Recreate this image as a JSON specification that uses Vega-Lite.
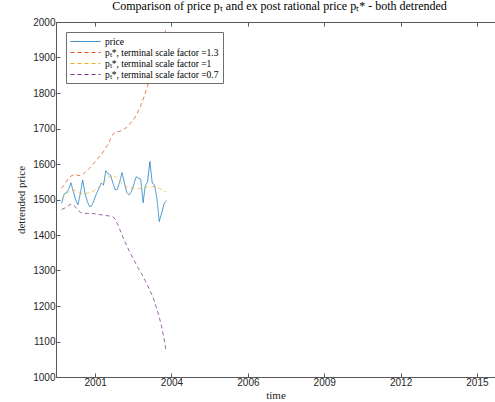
{
  "$schema": "https://vega.github.io/schema/vega-lite/v6.json",
  "width": 439,
  "height": 355,
  "autosize": "none",
  "padding": {"left": 56, "top": 22, "right": 0, "bottom": 25},
  "background": "white",
  "title": {"text": "Comparison of price pₜ and ex post rational price pₜ* - both detrended", "font": "Liberation Serif", "fontSize": 12, "fontWeight": "normal", "color": "#000000", "anchor": "middle", "offset": 4, "dx": 4},
  "data": {"values": [
    {"date": "2000-03-15", "a": 1489, "b": 1532, "c": 1501, "d": 1472},
    {"date": "2000-04-15", "a": 1515, "b": 1540, "c": 1508, "d": 1475},
    {"date": "2000-05-15", "a": 1519, "b": 1550, "c": 1515, "d": 1478},
    {"date": "2000-06-15", "a": 1529, "b": 1560, "c": 1522, "d": 1483},
    {"date": "2000-07-15", "a": 1547, "b": 1566, "c": 1526, "d": 1487},
    {"date": "2000-08-15", "a": 1522, "b": 1569, "c": 1527, "d": 1484},
    {"date": "2000-09-15", "a": 1499, "b": 1570, "c": 1524, "d": 1478},
    {"date": "2000-10-15", "a": 1485, "b": 1568, "c": 1521, "d": 1470},
    {"date": "2000-11-15", "a": 1517, "b": 1567, "c": 1518, "d": 1464},
    {"date": "2000-12-15", "a": 1555, "b": 1570, "c": 1517, "d": 1462},
    {"date": "2001-01-15", "a": 1517, "b": 1576, "c": 1517, "d": 1461},
    {"date": "2001-02-15", "a": 1494, "b": 1582, "c": 1518, "d": 1461},
    {"date": "2001-03-15", "a": 1480, "b": 1588, "c": 1520, "d": 1461},
    {"date": "2001-04-15", "a": 1483, "b": 1595, "c": 1522, "d": 1461},
    {"date": "2001-05-15", "a": 1499, "b": 1603, "c": 1525, "d": 1460},
    {"date": "2001-06-15", "a": 1517, "b": 1611, "c": 1530, "d": 1459},
    {"date": "2001-07-15", "a": 1531, "b": 1619, "c": 1535, "d": 1458},
    {"date": "2001-08-15", "a": 1546, "b": 1627, "c": 1541, "d": 1457},
    {"date": "2001-09-15", "a": 1541, "b": 1636, "c": 1548, "d": 1456},
    {"date": "2001-10-15", "a": 1581, "b": 1646, "c": 1556, "d": 1455},
    {"date": "2001-11-15", "a": 1572, "b": 1657, "c": 1562, "d": 1454},
    {"date": "2001-12-15", "a": 1569, "b": 1670, "c": 1566, "d": 1453},
    {"date": "2002-01-15", "a": 1547, "b": 1684, "c": 1568, "d": 1451},
    {"date": "2002-02-15", "a": 1527, "b": 1690, "c": 1565, "d": 1445},
    {"date": "2002-03-15", "a": 1529, "b": 1691, "c": 1558, "d": 1432},
    {"date": "2002-04-15", "a": 1550, "b": 1692, "c": 1551, "d": 1416},
    {"date": "2002-05-15", "a": 1576, "b": 1695, "c": 1545, "d": 1400},
    {"date": "2002-06-15", "a": 1547, "b": 1699, "c": 1540, "d": 1384},
    {"date": "2002-07-15", "a": 1520, "b": 1703, "c": 1536, "d": 1370},
    {"date": "2002-08-15", "a": 1513, "b": 1710, "c": 1534, "d": 1356},
    {"date": "2002-09-15", "a": 1522, "b": 1718, "c": 1533, "d": 1343},
    {"date": "2002-10-15", "a": 1541, "b": 1726, "c": 1532, "d": 1330},
    {"date": "2002-11-15", "a": 1564, "b": 1737, "c": 1531, "d": 1318},
    {"date": "2002-12-15", "a": 1560, "b": 1750, "c": 1531, "d": 1306},
    {"date": "2003-01-15", "a": 1557, "b": 1765, "c": 1531, "d": 1295},
    {"date": "2003-02-15", "a": 1491, "b": 1781, "c": 1532, "d": 1283},
    {"date": "2003-03-15", "a": 1538, "b": 1800, "c": 1534, "d": 1271},
    {"date": "2003-04-15", "a": 1550, "b": 1820, "c": 1536, "d": 1258},
    {"date": "2003-05-15", "a": 1607, "b": 1841, "c": 1537, "d": 1244},
    {"date": "2003-06-15", "a": 1546, "b": 1861, "c": 1537, "d": 1230},
    {"date": "2003-07-15", "a": 1541, "b": 1881, "c": 1536, "d": 1212},
    {"date": "2003-08-15", "a": 1503, "b": 1902, "c": 1534, "d": 1191},
    {"date": "2003-09-15", "a": 1438, "b": 1922, "c": 1531, "d": 1168},
    {"date": "2003-10-15", "a": 1461, "b": 1942, "c": 1528, "d": 1143},
    {"date": "2003-11-15", "a": 1487, "b": 1962, "c": 1524, "d": 1110},
    {"date": "2003-12-15", "a": 1497, "b": 1982, "c": 1521, "d": 1071}
  ]},
  "transform": [{"fold": ["a", "b", "c", "d"], "as": ["series", "value"]}],
  "layer": [
    {
      "mark": {"type": "line", "strokeWidth": 1, "strokeOpacity": 0.75, "clip": true},
      "encoding": {
        "x": {"field": "date", "type": "temporal",
          "scale": {"type": "utc", "domain": [{"year": 2000, "month": 1, "date": 1, "utc": true}, {"year": 2015, "month": 9, "date": 30, "utc": true}]},
          "axis": {"orient": "bottom", "title": "time", "labelExpr": "utcFormat(datum.value, '%Y')", "labelPadding": 4, "titlePadding": 2, "labelOverlap": false,
            "values": [
              {"year": 2001, "month": 5, "date": 28, "utc": true},
              {"year": 2004, "month": 2, "date": 22, "utc": true},
              {"year": 2006, "month": 11, "date": 19, "utc": true},
              {"year": 2009, "month": 8, "date": 15, "utc": true},
              {"year": 2012, "month": 5, "date": 11, "utc": true},
              {"year": 2015, "month": 2, "date": 5, "utc": true}
            ]}},
        "y": {"field": "value", "type": "quantitative",
          "scale": {"domain": [1000, 2000], "nice": false, "zero": false},
          "axis": {"title": "detrended price", "format": "d", "labelOverlap": false, "tickCount": 11, "values": [1000, 1100, 1200, 1300, 1400, 1500, 1600, 1700, 1800, 1900, 2000], "labelPadding": 5, "titlePadding": 6}},
        "color": {"field": "series", "type": "nominal",
          "scale": {"domain": ["a", "b", "c", "d"], "range": ["#0072BD", "#D95319", "#EDB120", "#7E2F8E"]},
          "legend": {"labelExpr": "datum.value == 'a' ? 'price' : datum.value == 'b' ? 'pₜ*, terminal scale factor =1.3' : datum.value == 'c' ? 'pₜ*, terminal scale factor =1' : 'pₜ*, terminal scale factor =0.7'"}},
        "strokeDash": {"field": "series", "type": "nominal",
          "scale": {"domain": ["a", "b", "c", "d"], "range": [[1, 0], [4, 3], [4, 3], [4, 3]]}}
      }
    },
    {
      "mark": {"type": "point", "opacity": 0},
      "encoding": {
        "x": {"field": "date", "type": "temporal",
          "axis": {"orient": "top", "labels": false, "title": null,
            "values": [
              {"year": 2001, "month": 5, "date": 28, "utc": true},
              {"year": 2004, "month": 2, "date": 22, "utc": true},
              {"year": 2006, "month": 11, "date": 19, "utc": true},
              {"year": 2009, "month": 8, "date": 15, "utc": true},
              {"year": 2012, "month": 5, "date": 11, "utc": true},
              {"year": 2015, "month": 2, "date": 5, "utc": true}
            ]}}
      }
    }
  ],
  "resolve": {"axis": {"x": "independent"}},
  "config": {
    "view": {"stroke": null},
    "axis": {"grid": false, "domainColor": "#595959", "tickColor": "#595959", "tickSize": -4, "tickWidth": 1, "labelColor": "#262626", "labelFont": "Liberation Sans", "labelFontSize": 10, "titleFont": "Liberation Serif", "titleFontSize": 11, "titleFontWeight": "normal", "titleColor": "#262626"},
    "legend": {"orient": "none", "legendX": 10, "legendY": 10, "title": null, "fillColor": "white", "strokeColor": "#6e6e6e", "padding": 4, "symbolType": "M-1,0H5", "symbolSize": 100, "symbolStrokeWidth": 1, "labelFont": "Liberation Serif", "labelFontSize": 9.5, "labelColor": "#000000", "rowPadding": 1, "labelOffset": 24}
  }
}
